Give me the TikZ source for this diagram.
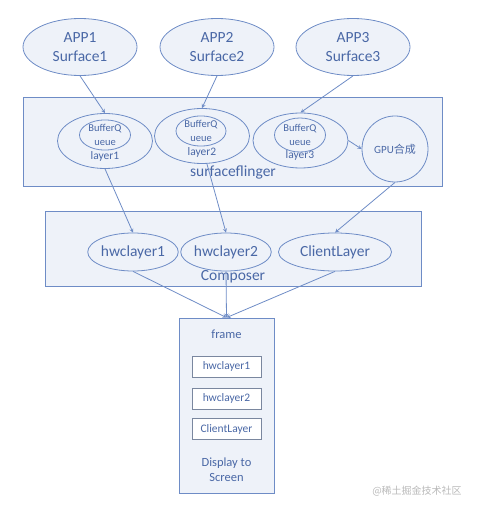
\documentclass[tikz,border=0pt]{standalone}
\usepackage{fontspec}
\setmainfont{Carlito}
\newfontfamily\cjk{Noto Sans CJK SC}
\usetikzlibrary{shapes.geometric}
\definecolor{lineblue}{HTML}{6E8CC6}
\definecolor{textblue}{HTML}{4A68A6}
\definecolor{fillblue}{HTML}{EEF2F9}
\definecolor{boxgray}{HTML}{7A879F}

\begin{document}
\begin{tikzpicture}[x=1pt,y=-1pt,->,>=stealth,line width=0.8pt,draw=lineblue,
			every node/.style={text=textblue,inner sep=0pt},
			app node/.style={ellipse,draw=lineblue,fill=fillblue,minimum width=114pt,minimum height=57pt,align=center,font=\fontsize{15.5}{19}\selectfont},
			panel node/.style={rectangle,draw=lineblue,fill=fillblue},
			layer node/.style={ellipse,draw=lineblue,fill=fillblue,minimum width=95pt,minimum height=55pt},
			queue node/.style={ellipse,draw=lineblue,fill=fillblue,minimum width=51pt,minimum height=30pt,align=center,font=\fontsize{10.5}{14}\selectfont},
			hwc node/.style={ellipse,draw=lineblue,fill=fillblue,minimum height=38pt,font=\fontsize{15.5}{19}\selectfont},
			slot node/.style={rectangle,draw=boxgray,fill=white,minimum width=69pt,minimum height=21pt,font=\fontsize{11.5}{14}\selectfont},
			big text/.style={font=\fontsize{15.5}{19}\selectfont},
			small text/.style={font=\fontsize{11.5}{14}\selectfont}
			]
			
			\useasboundingbox (0,0) rectangle (476,510);
			
			% containers
			\node[panel node,minimum width=419pt,minimum height=89pt] (sf) at (232.5,141.5) {};
			\node[panel node,minimum width=376pt,minimum height=75pt] (comp) at (233,248.5) {};
			\node[panel node,minimum width=95pt,minimum height=175pt] (frame) at (226.5,405.5) {};
			
			% apps
			\foreach \i/\x in {1/80,2/217,3/353} {
				\node[app node] (app\i) at (\x,47) {APP\i\\Surface\i};
			}
			
			% surfaceflinger layers
			\node[layer node] (layer1) at (105,141) {};
			\node[layer node] (layer2) at (202,136) {};
			\node[layer node] (layer3) at (300.5,140.5) {};
			\node[queue node] (q1) at (105,135) {BufferQ\\ueue};
			\node[queue node,minimum width=50pt] (q2) at (201,131) {BufferQ\\ueue};
			\node[queue node,minimum height=34pt] (q3) at (300,135) {BufferQ\\ueue};
			\node[small text] (l1) at (105,156) {layer1};
			\node[small text] (l2) at (202,152) {layer2};
			\node[small text] (l3) at (300,155) {layer3};
			\node[circle,draw=lineblue,fill=fillblue,minimum size=66pt,font=\fontsize{11}{13}\selectfont] (gpu) at (395,149) {GPU{\cjk 合成}};
			\node[big text] (sflabel) at (233,172) {surfaceflinger};
			
			% composer
			\node[hwc node,minimum width=84pt] (hw1) at (133,252) {hwclayer1};
			\node[hwc node,minimum width=85pt] (hw2) at (226,252) {hwclayer2};
			\node[hwc node,minimum width=113pt] (client) at (335,252) {ClientLayer};
			\node[big text] (complabel) at (233,277) {Composer};
			
			% frame
			\node[font=\fontsize{12.5}{15}\selectfont] (ftitle) at (226.5,334) {frame};
			\foreach \t/\y [count=\k] in {hwclayer1/366.5,hwclayer2/398.5,ClientLayer/429} {
				\node[slot node] (slot\k) at (226.5,\y) {\t};
			}
			\node[align=center,font=\fontsize{12.5}{15.5}\selectfont] (disp) at (226.5,469.5) {Display to\\Screen};
			
			\node[text=gray!55,font=\cjk\fontsize{10}{12}\selectfont] (mark) at (417,491) {@稀土掘金技术社区};
			
			% arrows
			\draw (app1.south) -- (layer1.north);
			\draw (app2.south) -- (layer2.north);
			\draw (app3.south) -- (layer3.north);
			\draw (layer3.east) -- (gpu.west);
			\draw (layer1.south) -- (hw1.north);
			\draw (layer2.-80) -- (hw2.north);
			\draw (gpu.south) -- (client.north);
			\draw (hw1.south) -- (frame.north);
			\draw (hw2.south) -- (frame.north);
			\draw (client.south) -- (frame.north);
			
\end{tikzpicture}
\end{document}
